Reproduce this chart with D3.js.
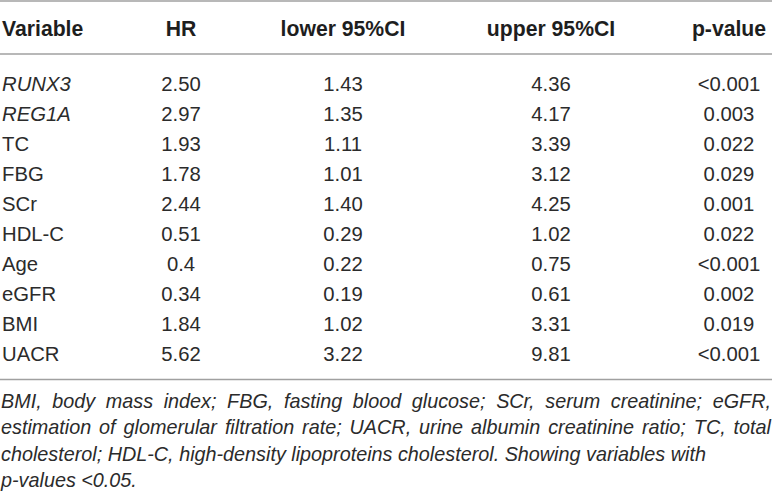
<!DOCTYPE html>
<html>
<head>
<meta charset="utf-8">
<script src="https://cdn.jsdelivr.net/npm/d3@7"></script>
<style>
  html, body { margin: 0; padding: 0; background: #fff; }
  svg text { font-family: "Liberation Sans", Arial, Helvetica, sans-serif; }
</style>
</head>
<body>
<div id="table"></div>
<script>
const WIDTH = 772;
const HEIGHT = 498;

const headers = ["Variable", "HR", "lower 95%CI", "upper 95%CI", "p-value"];
const variables = ["RUNX3", "REG1A", "TC", "FBG", "SCr", "HDL-C", "Age", "eGFR", "BMI", "UACR"];
const italicVars = ["RUNX3", "REG1A"];
const hr = ["2.50", "2.97", "1.93", "1.78", "2.44", "0.51", "0.4", "0.34", "1.84", "5.62"];
const lower = ["1.43", "1.35", "1.11", "1.01", "1.40", "0.29", "0.22", "0.19", "1.02", "3.22"];
const upper = ["4.36", "4.17", "3.39", "3.12", "4.25", "1.02", "0.75", "0.61", "3.31", "9.81"];
const pValue = ["<0.001", "0.003", "0.022", "0.029", "0.001", "0.022", "<0.001", "0.002", "0.019", "<0.001"];

const footnote = [
    "BMI, body mass index; FBG, fasting blood glucose; SCr, serum creatinine; eGFR,",
    "estimation of glomerular filtration rate; UACR, urine albumin creatinine ratio; TC, total",
    "cholesterol; HDL-C, high-density lipoproteins cholesterol. Showing variables with",
    "p-values <0.05."
];
const justified = [true, true, false, false];

const TEXT_COLOR = "#2b2b2b";
const RULE_COLOR = "#a0a0a0";
const HEAD_SIZE = 21.2;
const BODY_SIZE = 20.3;
const NOTE_SIZE = 19.8;

const svg = d3.select("#table")
    .append("svg")
    .attr("width", WIDTH)
    .attr("height", HEIGHT);

// column centres for the numeric columns
const colX = d3.scaleOrdinal()
    .domain(headers.slice(1))
    .range([181, 343, 551, 729]);

// row baselines
const rowY = d3.scaleLinear()
    .domain([0, variables.length - 1])
    .range([91, 361]);

const noteY = d3.scaleLinear()
    .domain([0, footnote.length - 1])
    .range([408, 487]);

// rules
svg.selectAll("line.rule")
    .data([1, 54, 379.5])
    .enter()
    .append("line")
    .attr("class", "rule")
    .attr("x1", 0)
    .attr("x2", WIDTH)
    .attr("y1", d => d)
    .attr("y2", d => d)
    .attr("stroke", RULE_COLOR)
    .attr("stroke-width", 1.5);

// header
svg.selectAll("text.header")
    .data(headers)
    .enter()
    .append("text")
    .attr("class", "header")
    .attr("x", (d, i) => i === 0 ? 2 : colX(d))
    .attr("y", 36)
    .attr("text-anchor", (d, i) => i === 0 ? "start" : "middle")
    .attr("font-size", HEAD_SIZE)
    .attr("font-weight", "bold")
    .attr("fill", "#1e1e1e")
    .text(d => d);

// body cells
const rows = variables.map((v, i) => ({
    i,
    cells: [v, hr[i], lower[i], upper[i], pValue[i]]
}));

const rowG = svg.selectAll("g.row")
    .data(rows)
    .enter()
    .append("g")
    .attr("class", "row")
    .attr("transform", d => `translate(0,${rowY(d.i)})`);

rowG.selectAll("text")
    .data(d => d.cells)
    .enter()
    .append("text")
    .attr("x", (d, j) => j === 0 ? 2 : colX(headers[j]))
    .attr("text-anchor", (d, j) => j === 0 ? "start" : "middle")
    .attr("font-size", BODY_SIZE)
    .attr("font-style", (d, j) => j === 0 && italicVars.includes(d) ? "italic" : "normal")
    .attr("fill", TEXT_COLOR)
    .text(d => d);

// footnote, first two lines justified across the full width
footnote.forEach((line, i) => {
    const g = svg.append("g")
        .attr("transform", `translate(0,${noteY(i)})`);
    const words = line.split(" ");
    const t = g.selectAll("text")
        .data(words)
        .enter()
        .append("text")
        .attr("font-size", NOTE_SIZE)
        .attr("font-style", "italic")
        .attr("fill", TEXT_COLOR)
        .text(d => d);
    const widths = t.nodes().map(n => n.getComputedTextLength());
    const total = d3.sum(widths);
    const space = 5.5;
    const gap = justified[i] ? Math.max(space, (WIDTH - 2 - total) / (words.length - 1)) : space;
    let x = 1;
    t.attr("x", (d, k) => {
        const pos = x;
        x += widths[k] + gap;
        return pos;
    });
});
</script>
</body>
</html>
